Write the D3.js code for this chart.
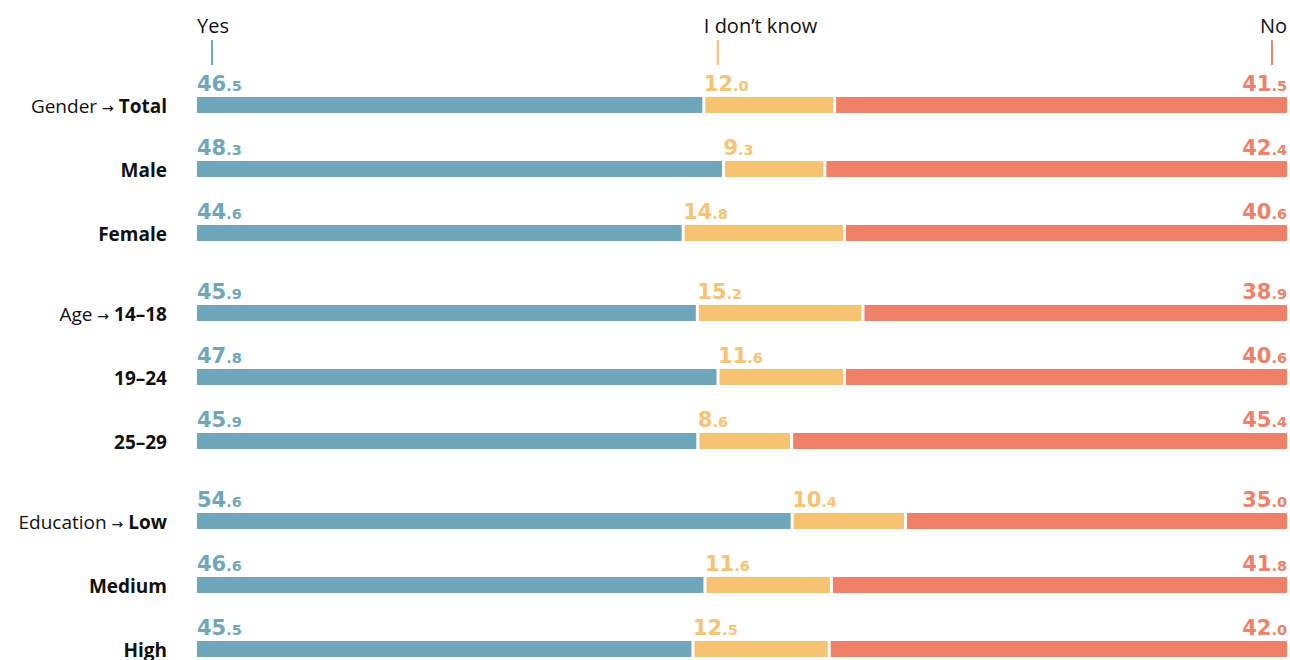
<!DOCTYPE html>
<html>
<head>
<meta charset="utf-8">
<script src="https://cdn.jsdelivr.net/npm/d3@7"></script>
<style>
  html, body { margin: 0; padding: 0; background: #fff; }
  svg { display: block; font-family: "Open Sans", "Noto Sans", sans-serif; }
</style>
</head>
<body>
<svg id="chart" width="1290" height="660"></svg>
<script>
// Survey answers by group (percent)
const groups = ["Gender", "", "", "Age", "", "", "Education", "", ""];
const categories = ["Total", "Male", "Female", "14–18", "19–24", "25–29", "Low", "Medium", "High"];
const yesValues   = [46.5, 48.3, 44.6, 45.9, 47.8, 45.9, 54.6, 46.6, 45.5];
const dunnoValues = [12.0,  9.3, 14.8, 15.2, 11.6,  8.6, 10.4, 11.6, 12.5];
const noValues    = [41.5, 42.4, 40.6, 38.9, 40.6, 45.4, 35.0, 41.8, 42.0];
const seriesNames = ["Yes", "I don’t know", "No"];
const colors = ["#6fa7ba", "#f8c273", "#ee8167"];

const svg = d3.select("#chart");
const left = 197, right = 1287;
const barH = 16, gap = 3;

// row positions: 64px pitch, extra 16px between groups
const rowTop = categories.map((c, i) => 97 + i * 64 + Math.floor(i / 3) * 16);

const rows = categories.map((c, i) => {
  const vals = [yesValues[i], dunnoValues[i], noValues[i]];
  const total = d3.sum(vals);
  const x = d3.scaleLinear().domain([0, total]).range([left, right]);
  let acc = 0;
  const segs = vals.map((v, k) => {
    const s = { k, v, x0: x(acc), x1: x(acc + v) };
    acc += v;
    return s;
  });
  return { i, c, segs };
});

// header labels with small ticks, anchored on the first row's segments
const head = rows[0].segs;
const headX = [head[0].x0, head[1].x0, head[2].x1];
const anchors = ["start", "start", "end"];
const tickOff = [15, 14, -15];
seriesNames.forEach((name, k) => {
  svg.append("text")
    .attr("x", headX[k]).attr("y", 33)
    .attr("text-anchor", anchors[k])
    .attr("font-size", 20).attr("fill", "#111")
    .text(name);
  svg.append("line")
    .attr("x1", headX[k] + tickOff[k]).attr("x2", headX[k] + tickOff[k])
    .attr("y1", 40).attr("y2", 65)
    .attr("stroke", colors[k]).attr("stroke-width", 2);
});

const rowG = svg.selectAll("g.row").data(rows).join("g")
  .attr("class", "row")
  .attr("transform", d => `translate(0,${rowTop[d.i]})`);

// stacked segments separated by thin white gaps
rowG.selectAll("rect").data(d => d.segs).join("rect")
  .attr("x", s => s.x0 + (s.k > 0 ? gap / 2 : 0))
  .attr("width", s => s.x1 - s.x0 - (s.k > 0 ? gap / 2 : 0) - (s.k < 2 ? gap / 2 : 0))
  .attr("y", 0).attr("height", barH)
  .attr("fill", s => colors[s.k]);

// value labels: whole part large, decimal part small
rowG.selectAll("text.val").data(d => d.segs).join("text")
  .attr("class", "val")
  .attr("x", s => s.k === 2 ? s.x1 : s.x0)
  .attr("y", -6)
  .attr("text-anchor", s => s.k === 2 ? "end" : "start")
  .attr("font-family", "'DejaVu Sans', sans-serif")
  .attr("font-weight", 700)
  .attr("fill", s => colors[s.k])
  .each(function(s) {
    const str = s.v.toFixed(1);
    const [whole, dec] = str.split(".");
    const t = d3.select(this);
    t.append("tspan").attr("font-size", 21).text(whole);
    t.append("tspan").attr("font-size", 14.5).text("." + dec);
  });

// category labels: "Group → Category" with the category in bold
rowG.append("text")
  .attr("x", 167).attr("y", barH)
  .attr("text-anchor", "end")
  .attr("font-size", 19).attr("fill", "#111")
  .each(function(d) {
    const t = d3.select(this);
    if (groups[d.i]) {
      t.append("tspan").text(groups[d.i] + " ");
      t.append("tspan").attr("font-family", "'DejaVu Sans', sans-serif")
        .attr("font-size", 14).text("→");
      t.append("tspan").text(" ");
    }
    t.append("tspan").attr("font-weight", 700).text(d.c);
  });
</script>
</body>
</html>
